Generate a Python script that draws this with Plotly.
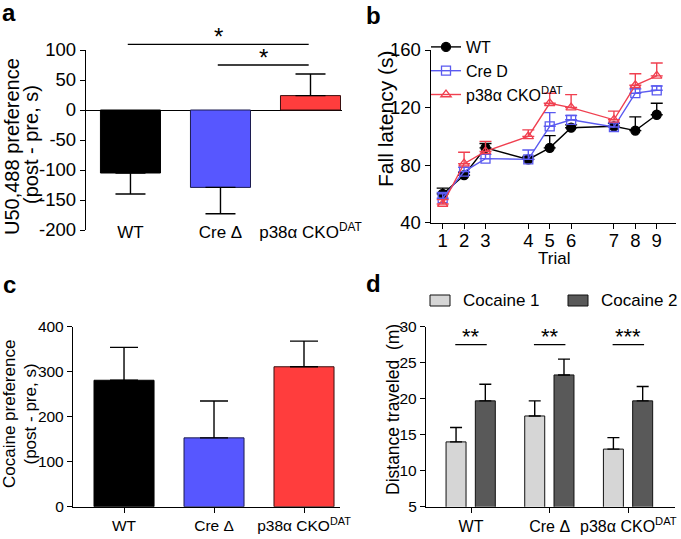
import plotly.graph_objects as go

W, H = 681, 539
FONT = "Liberation Sans, Arial, sans-serif"

# ---------------- data ----------------
groups = ["WT", "Cre Δ", "p38α CKO<sup>DAT</sup>"]
group_pos = [0, 1, 2]
group_colors = ["#000000", "#5757ff", "#ff3d3d"]
group_edges = ["#000000", "#1c1c50", "#3a1010"]

# panel a: U50,488 preference
u50_mean = [-105, -129, 24]
u50_sem = [35, 44, 36]
u50_ticks = [-200, -150, -100, -50, 0, 50, 100]

# panel b: rotarod fall latency
trial_labels = ["1", "2", "3", "4", "5", "6", "7", "8", "9"]
trial_pos = [1, 2, 3, 5, 6, 7, 9, 10, 11]
wt_lat = [60, 73, 92, 84, 92, 106, 107, 104, 115]
wt_sem = [4, 2, 3, 2, 8.5, 2, 2, 9.5, 8]
cre_lat = [57, 75.5, 84.5, 84, 107, 111.5, 106.5, 130, 132]
cre_sem = [4, 3, 3, 6.5, 9.5, 3, 3, 3, 3]
cko_lat = [53, 81, 89.5, 100, 123, 120, 111.5, 135.5, 142]
cko_sem = [3, 8, 7, 4.5, 7, 9, 6, 8, 9]
b_names = ["WT", "Cre D", "p38α CKO<sup>DAT</sup>"]

# panel c: cocaine preference
coc_mean = [281, 153, 311]
coc_sem = [73, 82, 57]

# panel d: distance traveled
coc1_mean = [14.0, 17.6, 13.0]
coc1_sem = [2.0, 2.1, 1.6]
coc2_mean = [19.7, 23.3, 19.7]
coc2_sem = [2.3, 2.2, 2.0]
d_names = ["Cocaine 1", "Cocaine 2"]
d_colors = ["#d6d6d6", "#595959"]
d_stars = ["**", "**", "***"]


def px(x):
    return x / W


def py(y):
    return 1 - y / H


fig = go.Figure()

# ---------- panel a ----------
fig.add_trace(go.Bar(
    x=group_pos, y=u50_mean, width=0.667,
    marker=dict(color=group_colors, line=dict(color=group_edges, width=1)),
    error_y=dict(type="data", symmetric=False,
                 array=[s if m > 0 else 0 for m, s in zip(u50_mean, u50_sem)],
                 arrayminus=[s if m < 0 else 0 for m, s in zip(u50_mean, u50_sem)],
                 color="black", thickness=1.4, width=15),
    showlegend=False, xaxis="x", yaxis="y"))

# ---------- panel b ----------
b_series = [(wt_lat, wt_sem, "#000000", "circle"),
            (cre_lat, cre_sem, "#5a5af0", "square-open"),
            (cko_lat, cko_sem, "#f04050", "triangle-up-open")]
for name, (vals, sem, col, sym) in zip(b_names, b_series):
    fig.add_trace(go.Scatter(
        x=trial_pos, y=vals, name=name, mode="lines+markers",
        line=dict(color=col, width=1.4),
        marker=dict(symbol=sym, size=9, color=col, line=dict(color=col, width=1.3)),
        error_y=dict(type="data", symmetric=False, array=sem,
                     arrayminus=[0] * len(sem), color=col, thickness=1.4, width=6),
        xaxis="x2", yaxis="y2"))

# ---------- panel c ----------
fig.add_trace(go.Bar(
    x=group_pos, y=coc_mean, width=0.667,
    marker=dict(color=group_colors, line=dict(color=group_edges, width=1)),
    error_y=dict(type="data", symmetric=False, array=coc_sem,
                 arrayminus=[0] * 3, color="black", thickness=1.4, width=14),
    showlegend=False, xaxis="x3", yaxis="y3"))

# ---------- panel d ----------
for name, vals, sem, col, off in [(d_names[0], coc1_mean, coc1_sem, d_colors[0], -0.317),
                                  (d_names[1], coc2_mean, coc2_sem, d_colors[1], 0.055)]:
    fig.add_trace(go.Bar(
        x=group_pos, y=vals, name=name, width=0.254, offset=off,
        marker=dict(color=col, line=dict(color="#111111", width=1)),
        error_y=dict(type="data", symmetric=False, array=sem,
                     arrayminus=[0] * 3, color="black", thickness=1.4, width=6),
        showlegend=False, xaxis="x4", yaxis="y4"))


def ax(size, **kw):
    d = dict(showline=True, linecolor="black", linewidth=1.3, ticks="outside",
             ticklen=5, tickwidth=1.3, tickcolor="black", showgrid=False,
             zeroline=False, automargin=False, tickangle=0,
             tickfont=dict(size=size, color="black", family=FONT))
    d.update(kw)
    return d


layout = dict(
    width=W, height=H, margin=dict(l=0, r=0, t=0, b=0, autoexpand=False),
    paper_bgcolor="white", plot_bgcolor="white",
    font=dict(family=FONT, size=16, color="black"),
    barmode="overlay",
    # a
    xaxis=ax(17, domain=[px(86), px(342)], range=[-0.494, 2.35],
             showline=False, ticks="", tickvals=group_pos, ticktext=groups,
             ticklabelstandoff=-10, anchor="y"),
    yaxis=ax(18.5, domain=[py(230), py(50)], range=[-200, 100],
             tickvals=u50_ticks, ticktext=[str(v) for v in u50_ticks],
             zeroline=True, zerolinecolor="black", zerolinewidth=1.3, anchor="x"),
    # b
    xaxis2=ax(18.5, domain=[px(430.7), px(676)], range=[0.44, 11.9],
              tickvals=trial_pos, ticktext=trial_labels, ticklabelstandoff=-4,
              anchor="y2"),
    yaxis2=ax(18.5, domain=[py(222.7), py(50)], range=[40, 160], dtick=40,
              anchor="x2"),
    # c
    xaxis3=ax(15.5, domain=[px(73), px(340)], range=[-0.567, 2.4],
              tickvals=group_pos, ticktext=groups, anchor="y3"),
    yaxis3=ax(15.5, domain=[py(506.7), py(326.7)], range=[0, 400], dtick=100,
              anchor="x3"),
    # d
    xaxis4=ax(16, domain=[px(426), px(675)], range=[-0.572, 2.593],
              tickvals=group_pos, ticktext=groups, anchor="y4"),
    yaxis4=ax(15.5, domain=[py(506.7), py(326.7)], range=[5, 30], dtick=5,
              anchor="x4"),
    legend=dict(x=px(426), y=py(30), xanchor="left", yanchor="top",
                bgcolor="rgba(0,0,0,0)", font=dict(size=16), tracegroupgap=0,
                itemwidth=30),
)
fig.update_layout(**layout)

ann = []


def txt(text, x, y, size, angle=0, anchor="center", bold=False):
    ann.append(dict(text=("<b>%s</b>" % text) if bold else text, x=px(x), y=py(y),
                    xref="paper", yref="paper", showarrow=False, textangle=angle,
                    font=dict(size=size), xanchor=anchor, yanchor="middle"))


# panel letters
for letter, (x, y) in zip("abcd", [(9, 13), (373, 15), (9, 284), (373, 283)]):
    txt(letter, x, y, 24, bold=True)
# axis titles
txt("U50,488 preference", 12, 147, 20, angle=-90)
txt("(post - pre, s)", 31, 145, 20, angle=-90)
txt("Fall latency (s)", 385, 118, 21, angle=-90)
txt("Trial", 554, 258, 17)
txt("Cocaine preference", 9, 414, 17, angle=-90)
txt("(post - pre, s)", 29.5, 414, 17, angle=-90)
txt("Distance traveled  (m)", 393, 410, 17.5, angle=-90)

shapes = []
# panel a significance
for (g0, g1), ly in [((0, 2), 44.3), ((1, 2), 65)]:
    x0, x1 = group_pos[g0] - 0.03, group_pos[g1] - 0.02
    shapes.append(dict(type="line", xref="x", yref="paper", x0=x0, x1=x1,
                       y0=py(ly), y1=py(ly), line=dict(color="black", width=1.3)))
    ann.append(dict(text="*", x=(x0 + x1) / 2, y=py(ly), xref="x", yref="paper",
                    showarrow=False, font=dict(size=24), xanchor="center", yanchor="bottom",
                    yshift=-8))
# panel d significance
for g, st in zip(group_pos, d_stars):
    shapes.append(dict(type="line", xref="x4", yref="y4", x0=g - 0.2, x1=g + 0.2,
                       y0=27.5, y1=27.5, line=dict(color="black", width=1.3)))
    ann.append(dict(text=st, x=g, y=27.5, xref="x4", yref="y4", showarrow=False,
                    font=dict(size=22), xanchor="center", yanchor="bottom", yshift=-6))

# panel d legend (swatch + label)
for name, col, sx in zip(d_names, d_colors, [430, 568]):
    shapes.append(dict(type="rect", xref="paper", yref="paper",
                       x0=px(sx), x1=px(sx + 20), y0=py(306), y1=py(295),
                       fillcolor=col, line=dict(color="#111111", width=1)))
    ann.append(dict(text=name, x=px(sx + 31), y=py(300), xref="paper", yref="paper",
                    showarrow=False, font=dict(size=17), xanchor="left", yanchor="middle"))

fig.update_layout(annotations=ann, shapes=shapes)
fig.write_html("out.html", config={"displayModeBar": False},
               post_script="document.body.style.margin='0px';")
